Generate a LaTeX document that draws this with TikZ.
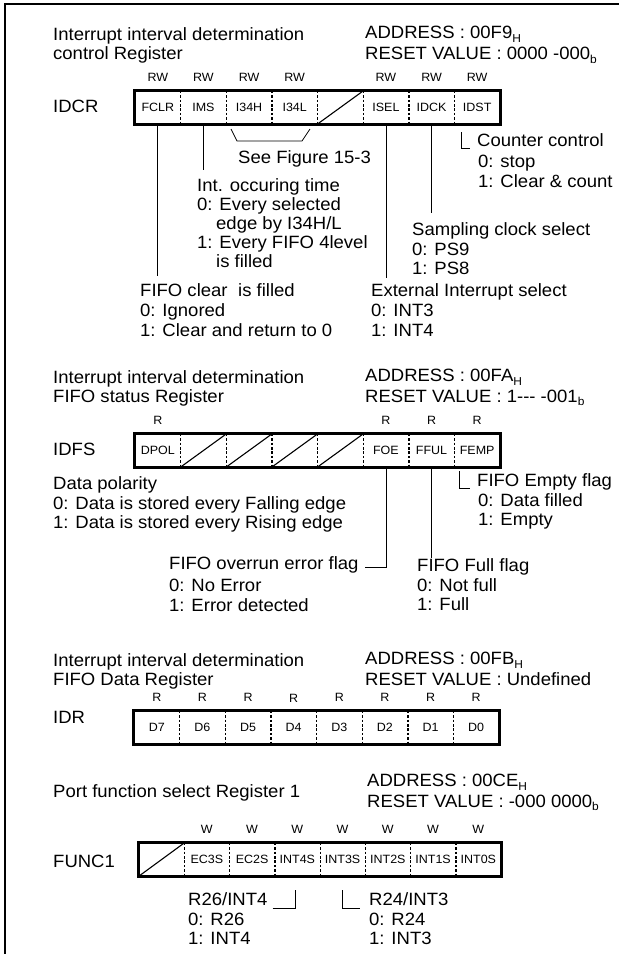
\documentclass[tikz,border=0pt]{standalone}
\usepackage{fontspec}
\setmainfont[FakeStretch=1.04]{Liberation Sans}
\newcommand\bigf{\fontsize{17.8}{19.5}\selectfont}
\newcommand\smallf{\fontsize{12}{13}\selectfont}
\newcommand\subsc[1]{\raisebox{-0.2em}[0pt][0pt]{\fontsize{11.5}{12}\selectfont #1}}
\begin{document}
\begin{tikzpicture}[x=1pt,y=-1pt,
  txt/.style={font=\bigf, inner sep=0pt, anchor=base west},
  lbl/.style={font=\smallf, inner sep=0pt, anchor=base},
  cell/.style={font=\smallf, inner sep=0pt, minimum width=45.625pt, minimum height=33pt, text height=8.6pt, text depth=0pt},
  regbox/.style={draw, line width=3.3pt},
  divider/.style={line width=1.3pt, dash pattern=on 2.6pt off 1.8pt},
  conn/.style={line width=0.8pt},
  slash/.style={line width=1.1pt}]
\useasboundingbox (0,0) rectangle (619,954);
\draw[line width=2.2pt] (5,954) -- (5,4) -- (619,4);

% ---------------- IDCR ----------------
\node[txt] (t1a) at (53,40) {Interrupt interval determination};
\node[txt] (t1b) at (53,59.5) {control Register};
\node[txt] (ad1) at (365,38.5) {ADDRESS : 00F9\subsc{H}};
\node[txt] (rs1) at (365,59.5) {RESET VALUE : 0000 -000\subsc{b}};
\node[txt] (n1) at (53,112) {IDCR};
\foreach \t [count=\i] in {FCLR,IMS,I34H,I34L,{},ISEL,IDCK,IDST}
  \node[cell] (a\i) at ({135+45.625*(\i-0.5)},107.5) {\t};
\draw[regbox] (a1.north west) rectangle (a8.south east);
\foreach \i in {1,...,7} \draw[divider] (a\i.north east) -- (a\i.south east);
\draw[slash] (a5.south west) -- (a5.north east);
\foreach \i in {1,2,3,4,6,7,8} \node[lbl] (rwa\i) at ([yshift=9.5pt]a\i.north) {RW};

\node[txt] (see) at (238,163) {See Figure 15-3};
\draw[conn] (231,129) -- (237,141) -- (302,141) -- (310,129);

\node[txt] (cc1) at (477,146) {Counter control};
\node[txt] (cc2) at (478,167) {0: stop};
\node[txt] (cc3) at (478,187) {1: Clear \& count};
\draw[conn] ([xshift=7.5pt,yshift=-8pt]a8.south west) |- ([xshift=-7pt,yshift=-2pt]cc1.base west);

\node[txt] (im1) at (197,191) {Int. occuring time};
\node[txt] (im2) at (197,210) {0: Every selected};
\node[txt] (im3) at (216,229) {edge by I34H/L};
\node[txt] (im4) at (197,248) {1: Every FIFO 4level};
\node[txt] (im5) at (216,267) {is filled};
\draw[conn] (a2.south) -- ([yshift=8pt]a2.south |- im1.north);

\node[txt] (sc1) at (412,235) {Sampling clock select};
\node[txt] (sc2) at (412,255) {0: PS9};
\node[txt] (sc3) at (412,274) {1: PS8};
\draw[conn] (a7.south) -- ([yshift=9pt]a7.south |- sc1.north);

\node[txt] (fc1) at (140,296) {FIFO clear};
\node[txt] (fc1b) at (238,296) {is filled};
\node[txt] (fc2) at (140,316) {0: Ignored};
\node[txt] (fc3) at (140,336) {1: Clear and return to 0};
\draw[conn] (a1.south) -- ([yshift=7pt]a1.south |- fc1.north);

\node[txt] (ex1) at (371,296) {External Interrupt select};
\node[txt] (ex2) at (371,316) {0: INT3};
\node[txt] (ex3) at (371,336) {1: INT4};
\draw[conn] (a6.south) -- ([yshift=5pt]a6.south |- ex1.north);

% ---------------- IDFS ----------------
\node[txt] (t2a) at (53,383) {Interrupt interval determination};
\node[txt] (t2b) at (53,402) {FIFO status Register};
\node[txt] (ad2) at (365,381.5) {ADDRESS : 00FA\subsc{H}};
\node[txt] (rs2) at (365,402) {RESET VALUE : 1{-}{-}{-} -001\subsc{b}};
\node[txt] (n2) at (53,455) {IDFS};
\foreach \t [count=\i] in {DPOL,{},{},{},{},FOE,FFUL,FEMP}
  \node[cell] (b\i) at ({135+45.625*(\i-0.5)},450.5) {\t};
\draw[regbox] (b1.north west) rectangle (b8.south east);
\foreach \i in {1,...,7} \draw[divider] (b\i.north east) -- (b\i.south east);
\foreach \i in {2,...,5} \draw[slash] (b\i.south west) -- (b\i.north east);
\foreach \i in {1,6,7,8} \node[lbl] (rb\i) at ([yshift=9.5pt]b\i.north) {R};

\node[txt] (dp1) at (53,489) {Data polarity};
\node[txt] (dp2) at (53,509) {0: Data is stored every Falling edge};
\node[txt] (dp3) at (53,528) {1: Data is stored every Rising edge};

\node[txt] (fe1) at (477,486) {FIFO Empty flag};
\node[txt] (fe2) at (478,506) {0: Data filled};
\node[txt] (fe3) at (478,525) {1: Empty};
\draw[conn] ([xshift=5.5pt,yshift=-4pt]b8.south west) |- ([xshift=-7pt,yshift=-2pt]fe1.base west);

\node[txt] (oe1) at (169,569) {FIFO overrun error flag};
\node[txt] (oe2) at (169,591) {0: No Error};
\node[txt] (oe3) at (169,611) {1: Error detected};
\draw[conn] (b6.south) |- ([xshift=6pt,yshift=2pt]oe1.base east);

\node[txt] (ff1) at (417,571) {FIFO Full flag};
\node[txt] (ff2) at (417,591) {0: Not full};
\node[txt] (ff3) at (417,610) {1: Full};
\draw[conn] (b7.south) -- (b7.south |- ff1.north);

% ---------------- IDR ----------------
\node[txt] (t3a) at (53,666) {Interrupt interval determination};
\node[txt] (t3b) at (53,685) {FIFO Data Register};
\node[txt] (ad3) at (365,664.5) {ADDRESS : 00FB\subsc{H}};
\node[txt] (rs3) at (365,685) {RESET VALUE : Undefined};
\node[txt] (n3) at (53,723) {IDR};
\foreach \t [count=\i] in {D7,D6,D5,D4,D3,D2,D1,D0}
  \node[cell] (c\i) at ({134+45.625*(\i-0.5)},727.5) {\t};
\draw[regbox] (c1.north west) rectangle (c8.south east);
\foreach \i in {1,...,7} \draw[divider] (c\i.north east) -- (c\i.south east);
\foreach \i in {1,2,3,5,6,7,8} \node[lbl] (rc\i) at ([yshift=9.5pt]c\i.north) {R};
\node[lbl] (rc4) at ([yshift=8pt]c4.north) {R};

% ---------------- FUNC1 ----------------
\node[txt] (t4a) at (53,797) {Port function select Register 1};
\node[txt] (ad4) at (367,786.5) {ADDRESS : 00CE\subsc{H}};
\node[txt] (rs4) at (367,807) {RESET VALUE : -000 0000\subsc{b}};
\node[txt] (n4) at (53,867) {FUNC1};
\foreach \t [count=\i] in {{},EC3S,EC2S,INT4S,INT3S,INT2S,INT1S,INT0S}
  \node[cell, minimum width=45.25pt] (d\i) at ({139+45.25*(\i-0.5)},859.5) {\t};
\draw[regbox] (d1.north west) rectangle (d8.south east);
\foreach \i in {1,...,7} \draw[divider] (d\i.north east) -- (d\i.south east);
\draw[slash] (d1.south west) -- (d1.north east);
\foreach \i in {2,...,8} \node[lbl] (wd\i) at ([yshift=9.5pt]d\i.north) {W};

\node[txt] (p41) at (188,905) {R26/INT4};
\node[txt] (p42) at (188,925) {0: R26};
\node[txt] (p43) at (188,944) {1: INT4};
\draw[conn] ([xshift=5pt,yshift=-3pt]p41.base east) -| ([xshift=-2pt,yshift=-14pt]d4.south);

\node[txt] (p31) at (369,905) {R24/INT3};
\node[txt] (p32) at (369,925) {0: R24};
\node[txt] (p33) at (369,944) {1: INT3};
\draw[conn] ([yshift=-14pt]d5.south) |- ([xshift=-9pt,yshift=-3pt]p31.base west);
\end{tikzpicture}
\end{document}
